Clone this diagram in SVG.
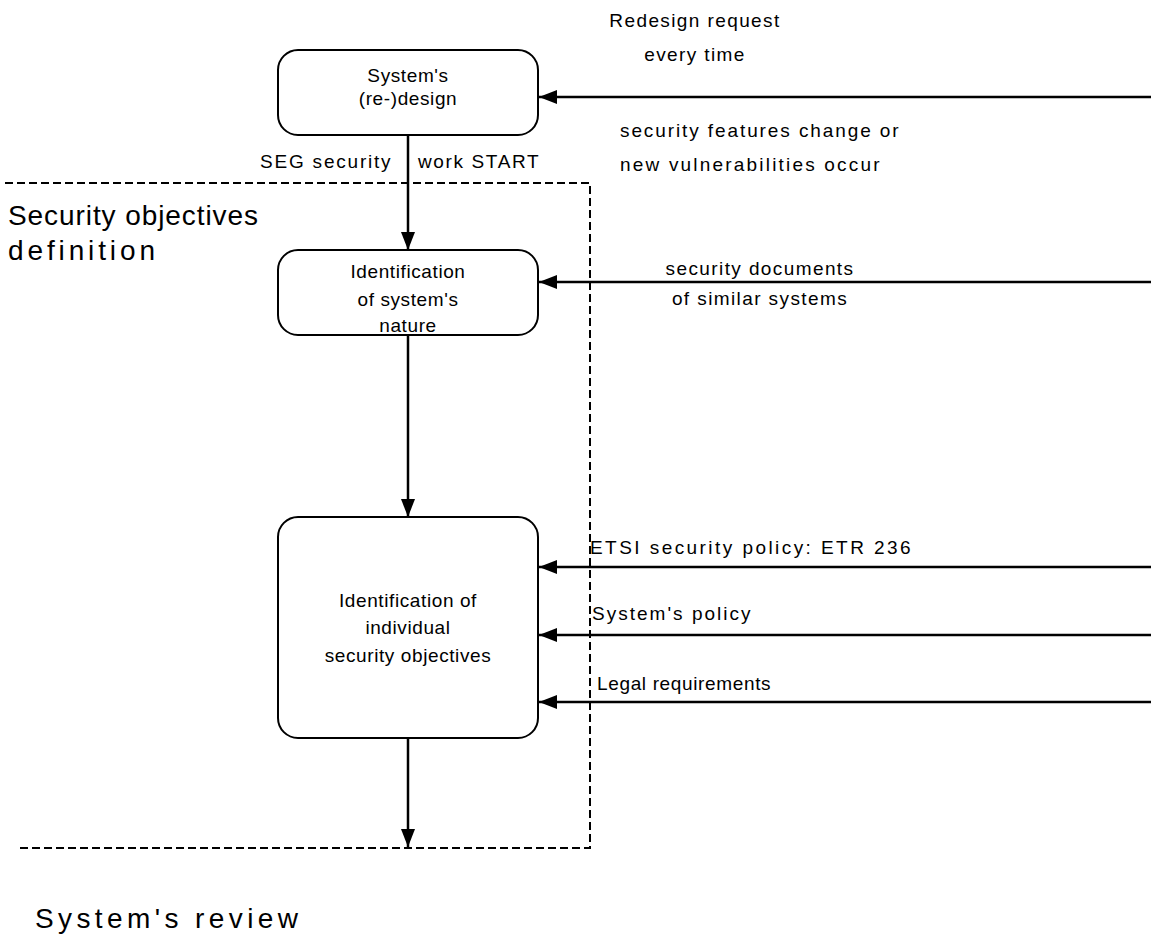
<svg xmlns="http://www.w3.org/2000/svg" width="1151" height="948" viewBox="0 0 1151 948">
  <style>
    .box { fill: #fff; stroke: #000; stroke-width: 2; }
    .line { fill: none; stroke: #000; stroke-width: 2.5; }
    .frame { fill: none; stroke: #000; stroke-width: 2; stroke-dasharray: 8 4; }
    text { font-family: "Liberation Sans", Arial, sans-serif; fill: #000; }
    .s { font-size: 19px; letter-spacing: 1.4px; }
    .b { font-size: 19px; letter-spacing: 0.6px; text-anchor: middle; }
    .l { font-size: 28px; }
    .c { text-anchor: middle; }
  </style>
  <defs>
    <marker id="arrow" viewBox="0 0 18 14" refX="18" refY="7" markerWidth="18" markerHeight="14" markerUnits="userSpaceOnUse" orient="auto">
      <path d="M0,0 L18,7 L0,14 Z" fill="#000"/>
    </marker>
  </defs>

  <!-- dashed boundary of the objectives-definition stage -->
  <g id="stage-frame">
    <path class="frame" d="M5,183 H590 V848 H18"/>
    <text class="l" x="8" y="225" textLength="250" lengthAdjust="spacing">Security objectives</text>
    <text class="l" x="8" y="260" textLength="147" lengthAdjust="spacing">definition</text>
    <text class="l" x="35" y="928" textLength="263" lengthAdjust="spacing">System's review</text>
  </g>

  <!-- connectors -->
  <g id="connectors">
    <path class="line" d="M408,135 V250" marker-end="url(#arrow)"/>
    <path class="line" d="M408,335 V517" marker-end="url(#arrow)"/>
    <path class="line" d="M408,738 V847" marker-end="url(#arrow)"/>
    <path class="line" d="M1151,97 H539" marker-end="url(#arrow)"/>
    <path class="line" d="M1151,282 H539" marker-end="url(#arrow)"/>
    <path class="line" d="M1151,567 H539" marker-end="url(#arrow)"/>
    <path class="line" d="M1151,635 H539" marker-end="url(#arrow)"/>
    <path class="line" d="M1151,702 H539" marker-end="url(#arrow)"/>
  </g>

  <!-- connector labels -->
  <g id="labels">
    <text class="s" x="260" y="168" textLength="132" lengthAdjust="spacing">SEG security</text>
    <text class="s" x="418" y="168" textLength="122" lengthAdjust="spacing">work START</text>
    <text class="s c" x="695" y="27">Redesign request</text>
    <text class="s c" x="695" y="61">every time</text>
    <text class="s" x="620" y="137" textLength="280" lengthAdjust="spacing">security features change or</text>
    <text class="s" x="620" y="171" textLength="261" lengthAdjust="spacing">new vulnerabilities occur</text>
    <text class="s c" x="760" y="275">security documents</text>
    <text class="s c" x="760" y="305">of similar systems</text>
    <text class="s" x="590" y="554" textLength="322" lengthAdjust="spacing">ETSI security policy: ETR 236</text>
    <text class="s" x="592" y="620" textLength="160" lengthAdjust="spacing">System's policy</text>
    <text class="s" x="597" y="690" textLength="175" lengthAdjust="spacing">Legal requirements</text>
  </g>

  <g id="node-redesign">
    <rect class="box" x="278" y="50" width="260" height="85" rx="20"/>
    <text class="b" x="408" y="82">System's</text>
    <text class="b" x="408" y="105">(re-)design</text>
  </g>

  <g id="node-nature">
    <rect class="box" x="278" y="250" width="260" height="85" rx="20"/>
    <text class="b" x="408" y="278">Identification</text>
    <text class="b" x="408" y="306">of system's</text>
    <text class="b" x="408" y="332">nature</text>
  </g>

  <g id="node-objectives">
    <rect class="box" x="278" y="517" width="260" height="221" rx="20"/>
    <text class="b" x="408" y="607">Identification of</text>
    <text class="b" x="408" y="634">individual</text>
    <text class="b" x="408" y="662">security objectives</text>
  </g>
</svg>
